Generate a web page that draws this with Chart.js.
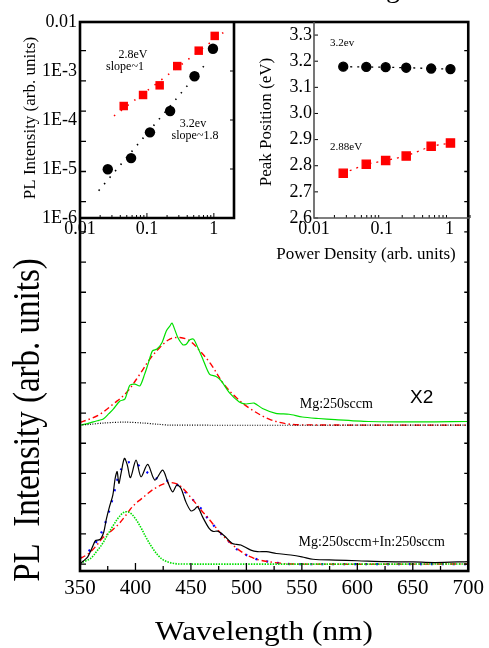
<!DOCTYPE html>
<html><head><meta charset="utf-8">
<script src="https://cdn.jsdelivr.net/npm/chart.js@4.4.1/dist/chart.umd.min.js"></script>
<style>
html,body{margin:0;padding:0;background:#fff;}
#wrap{position:relative;width:489px;height:648px;overflow:hidden;background:#fff;}
canvas{position:absolute;}
</style></head><body>
<div id="wrap">
<canvas id="main" width="489" height="648" style="left:0;top:0"></canvas>
<canvas id="insL" width="240" height="250" style="left:0;top:0"></canvas>
<canvas id="insR" width="249" height="270" style="left:240px;top:0"></canvas>
</div>
<script>
// ---------------- DATA ----------------
// Main panel: wavelength (nm) vs PL intensity (arb. units, offset spectra)
const mainXTicks = [350, 400, 450, 500, 550, 600, 650, 700];
const mainXMinor = [375, 425, 475, 525, 575, 625, 675];
const mainYTicks = [0,1,2,3,4,5,6,7,8,9,10,11,12,13,14,15,16,17];
const upperOffset = 4.6;

// Upper spectrum (Mg:250sccm), values relative to its own baseline
const upperGreen = [[350,0],[356,0.04],[362,0.11],[367,0.16],[371,0.2],[376,0.38],[380,0.53],[386,0.8],[390.4,0.86],[394.9,1.32],[399.4,1.36],[404,1.3],[408.3,1.69],[411.3,2.02],[415.3,2.46],[419.4,2.52],[424,2.74],[427.8,3.12],[430.8,3.27],[432.9,3.38],[435.3,3.18],[438.2,2.9],[442.7,2.66],[445.8,2.68],[448.7,2.82],[452.3,2.85],[456.2,2.57],[460.7,2.19],[466.7,1.69],[472.7,1.61],[477.2,1.47],[484.6,1.08],[493.6,0.77],[499.6,0.7],[507,0.73],[514.5,0.55],[526.5,0.39],[538.5,0.36],[550.4,0.27],[565,0.22],[580,0.18],[610,0.12],[640,0.11],[670,0.11],[700,0.12]];
const upperRed = [[350,0.09],[360,0.22],[368,0.36],[380,0.7],[392,1.08],[404,1.69],[413,2.19],[422,2.57],[431,2.85],[440,2.9],[449,2.79],[458,2.46],[468,2.02],[478.6,1.41],[490.6,0.92],[504,0.53],[520.5,0.2],[535.5,0.05],[550,0.01],[700,0]];
const upperBlack = [[350,0],[360,0.03],[371,0.07],[390,0.1],[407,0.07],[420,0.03],[431,0],[700,0]];

// Lower spectrum (Mg:250sccm+In:250sccm)
const lowerBlack = [[350,0.0],[353,0.1],[357,0.24],[361,0.55],[364,0.78],[367,0.8],[369,0.85],[371.5,1.07],[373.6,1.46],[376.6,1.9],[379.6,2.28],[381.7,2.84],[383.5,3.06],[385,2.67],[387,3.0],[390,3.5],[392.5,3.3],[395.5,2.86],[400.5,3.44],[405,2.89],[411,3.3],[417.5,2.78],[424.5,3.11],[429,2.73],[433.5,2.39],[437.3,2.62],[441,2.51],[445.4,2.06],[450,1.76],[453,1.8],[456,1.9],[460.4,1.57],[466.4,1.18],[470,1.08],[474,1.09],[480,0.94],[487,0.69],[491,0.65],[495,0.63],[504,0.46],[510,0.41],[518,0.41],[527,0.35],[540,0.3],[550,0.24],[560,0.16],[580,0.13],[600,0.11],[625,0.08],[650,0.07],[670,0.05],[700,0.08]];
const lowerGreen = [[350,0.04],[355,0.1],[360,0.2],[365,0.42],[370,0.66],[375,0.98],[380,1.28],[385,1.55],[390,1.72],[395,1.7],[400,1.5],[405,1.2],[410,0.85],[415,0.55],[420,0.3],[425,0.14],[430,0.06],[435,0.02],[440,0],[700,0]];
const lowerRed = [[350,0.18],[355,0.28],[360,0.42],[365,0.62],[370,0.85],[375,1.0],[380,1.15],[385,1.33],[390,1.55],[395,1.8],[400,2.0],[405,2.15],[410,2.3],[415,2.45],[420,2.56],[425,2.65],[430,2.7],[435,2.68],[440,2.6],[445,2.42],[450,2.2],[455,1.98],[460,1.75],[465,1.55],[470,1.32],[475,1.1],[480,0.9],[485,0.72],[490,0.56],[495,0.42],[500,0.3],[505,0.22],[510,0.15],[520,0.08],[530,0.03],[540,0],[700,0]];
const lowerBlue = [[350,0.2],[355,0.35],[360,0.5],[365,0.75],[370,1.1],[375,1.6],[380,2.25],[385,2.95],[390,3.3],[395,3.38],[400,3.35],[405,3.2],[410,3.05],[415,2.92],[420,2.82],[425,2.77],[430,2.75],[435,2.68],[440,2.55],[445,2.38],[450,2.2],[455,2.0],[460,1.8],[465,1.52],[470,1.3],[475,1.1],[480,0.88],[485,0.72],[490,0.52],[495,0.42],[500,0.3],[505,0.22],[510,0.15],[520,0.08],[530,0.03],[540,0],[700,0]];

// Left inset: PL intensity vs power density (log-log)
const insetXTicks = [0.01, 0.1, 1];
const insetXLabels = ['0.01', '0.1', '1'];
const insetLYTicks = [1e-6, 1e-5, 1e-4, 1e-3, 1e-2];
const insetLYLabels = ['1E-6', '1E-5', '1E-4', '1E-3', '0.01'];
const red28Power = [0.045, 0.0875, 0.155, 0.284, 0.594, 1.03];
const red28Int = [1.93e-4, 3.24e-4, 5.1e-4, 1.26e-3, 2.6e-3, 5.2e-3];
const black32Power = [0.026, 0.058, 0.111, 0.222, 0.514, 0.97];
const black32Int = [9.9e-6, 1.67e-5, 5.6e-5, 1.53e-4, 7.8e-4, 2.85e-3];
const fitRed = [[0.0322, 1.21e-4], [1.41, 6.2e-3]];
const fitBlack = [[0.019, 3.6e-6], [0.822, 1.6e-3]];

// Right inset: peak position vs power density
const insetRYTicks = [2.6, 2.7, 2.8, 2.9, 3.0, 3.1, 3.2, 3.3];
const insetRYLabels = ['2.6', '2.7', '2.8', '2.9', '3.0', '3.1', '3.2', '3.3'];
const peakPower = [0.027, 0.059, 0.114, 0.229, 0.535, 1.03];
const peak32 = [3.179, 3.178, 3.177, 3.175, 3.172, 3.170];
const peak288 = [2.771, 2.806, 2.820, 2.837, 2.875, 2.887];

// ---------------- HELPERS ----------------
const SERIF = "'Liberation Serif','Times New Roman',serif";
const SANS = "'Liberation Sans',Arial,sans-serif";
const toXY = (pairs, off = 0) => pairs.map(([x, y]) => ({x, y: y + off}));
const zipXY = (xs, ys) => xs.map((x, i) => ({x, y: ys[i]}));
function lineDs(data, color, width, dash, tension) {
  return {data, borderColor: color, borderWidth: width, borderDash: dash || [], pointRadius: 0,
          showLine: true, tension: tension || 0, fill: false, borderCapStyle: 'butt'};
}
function txt(ctx, s, x, y, font, align, base) {
  ctx.font = font; ctx.textAlign = align || 'center'; ctx.textBaseline = base || 'middle';
  ctx.fillStyle = '#000'; ctx.fillText(s, x, y);
}
function vtxt(ctx, s, x, y, font, stretch) {
  ctx.save(); ctx.translate(x, y); ctx.rotate(-Math.PI / 2);
  if (stretch) ctx.scale(1, stretch);
  txt(ctx, s, 0, 0, font, 'center', 'middle'); ctx.restore();
}
const baseOpts = {animation: false, responsive: false, devicePixelRatio: 1,
  plugins: {legend: {display: false}, tooltip: {enabled: false}}};
const noGrid = {display: false, drawTicks: false};

// ---------------- MAIN CHART ----------------
const mainDecor = {
  id: 'mainDecor',
  afterDraw(chart) {
    const {ctx, chartArea: a, scales: {x, y}} = chart;
    ctx.save();
    ctx.strokeStyle = '#000';
    ctx.lineWidth = 1.3;
    mainYTicks.forEach(v => {
      const py = y.getPixelForValue(v);
      ctx.beginPath(); ctx.moveTo(a.left, py); ctx.lineTo(a.left + 6, py);
      ctx.moveTo(a.right - 4, py); ctx.lineTo(a.right, py); ctx.stroke();
    });
    mainXTicks.forEach(v => {
      const px = x.getPixelForValue(v);
      ctx.beginPath(); ctx.moveTo(px, a.bottom); ctx.lineTo(px, a.bottom - 8); ctx.stroke();
    });
    mainXMinor.forEach(v => {
      const px = x.getPixelForValue(v);
      ctx.beginPath(); ctx.moveTo(px, a.bottom); ctx.lineTo(px, a.bottom - 5); ctx.stroke();
    });
    ctx.lineWidth = 2.6;
    ctx.strokeRect(a.left, a.top, a.width, a.height);
    ctx.save(); ctx.translate(264, 640); ctx.scale(1.12, 1);
    txt(ctx, 'Wavelength (nm)', 0, 0, `28px ${SERIF}`, 'center', 'alphabetic');
    ctx.restore();
    vtxt(ctx, 'PL  Intensity (arb. units)', 29, 420, `33px ${SERIF}`, 1.15);
    txt(ctx, 'Mg:250sccm', x.getPixelForValue(581), y.getPixelForValue(5.3), `14px ${SERIF}`);
    txt(ctx, 'X2', x.getPixelForValue(658), y.getPixelForValue(5.5), `19px ${SANS}`);
    txt(ctx, 'Mg:250sccm+In:250sccm', x.getPixelForValue(613), y.getPixelForValue(0.73), `14px ${SERIF}`);
    txt(ctx, 'g', 393, -3, `28px ${SERIF}`, 'center', 'alphabetic');
    ctx.restore();
  }
};

new Chart(document.getElementById('main'), {
  type: 'scatter',
  data: {datasets: [
    lineDs(toXY(upperBlack, upperOffset), '#000', 1.2, [1, 1.5], 0.3),
    lineDs(toXY(upperGreen, upperOffset), '#00e000', 1.2, [], 0.25),
    lineDs(toXY(upperRed, upperOffset), '#ff0000', 1.4, [6, 3, 1.5, 3], 0.35),
    lineDs(toXY(lowerBlack), '#000', 1.2, [], 0.3),
    lineDs(toXY(lowerGreen), '#00e000', 1.6, [1.5, 1.2], 0.35),
    lineDs(toXY(lowerRed), '#ff0000', 1.4, [6, 3, 1.5, 3], 0.35),
    lineDs(toXY(lowerBlue), '#0000ff', 2.2, [2, 9], 0.35)
  ]},
  options: {...baseOpts,
    layout: {padding: {left: 0, right: 19, top: 22, bottom: 0}},
    scales: {
      x: {type: 'linear', min: 350, max: 700,
        afterBuildTicks: s => { s.ticks = mainXTicks.map(v => ({value: v})); },
        ticks: {font: {family: SERIF, size: 21}, color: '#000', padding: 5, maxRotation: 0, autoSkip: false},
        grid: noGrid, border: {display: false},
        afterFit: s => { s.height = 77; }},
      y: {type: 'linear', min: -0.23, max: 17.95,
        ticks: {display: false}, grid: noGrid, border: {display: false},
        afterFit: s => { s.width = 80; }}
    }
  },
  plugins: [mainDecor]
});

// ---------------- LEFT INSET ----------------
function logMinor(lo, hi) { const out = []; for (let d = lo; d < hi; d *= 10) for (let k = 2; k <= 9; k++) out.push(d * k); return out; }
const insetLDecor = {
  id: 'insetLDecor',
  afterDraw(chart) {
    const {ctx, chartArea: a, scales: {x, y}} = chart;
    ctx.save(); ctx.strokeStyle = '#000';
    ctx.lineWidth = 1;
    logMinor(0.01, 1).concat([2]).forEach(v => {
      const px = x.getPixelForValue(v); if (px > a.right) return;
      ctx.beginPath(); ctx.moveTo(px, a.bottom); ctx.lineTo(px, a.bottom - 3); ctx.stroke();
    });
    insetXTicks.forEach(v => { const px = x.getPixelForValue(v);
      ctx.beginPath(); ctx.moveTo(px, a.bottom); ctx.lineTo(px, a.bottom - 5); ctx.stroke(); });
    insetLYTicks.forEach(v => { const py = y.getPixelForValue(v);
      ctx.beginPath(); ctx.moveTo(a.right, py); ctx.lineTo(a.right - 4, py); ctx.stroke(); });
    ctx.lineWidth = 2.6;
    ctx.beginPath(); ctx.moveTo(a.left, a.bottom); ctx.lineTo(a.right, a.bottom); ctx.lineTo(a.right, a.top); ctx.stroke();
    vtxt(ctx, 'PL Intensity (arb. units)', 31, 118, `17px ${SERIF}`);
    txt(ctx, '2.8eV', 133, 55, `12px ${SERIF}`);
    txt(ctx, 'slope~1', 125, 67, `12px ${SERIF}`);
    txt(ctx, '3.2ev', 193, 124, `12px ${SERIF}`);
    txt(ctx, 'slope~1.8', 195, 136, `12px ${SERIF}`);
    ctx.restore();
  }
};
new Chart(document.getElementById('insL'), {
  type: 'scatter',
  data: {datasets: [
    lineDs(toXY(fitRed), '#ff0000', 1.6, [1.5, 7]),
    lineDs(toXY(fitBlack), '#000', 1.6, [1.5, 7]),
    {data: zipXY(red28Power, red28Int), pointStyle: 'rect', pointRadius: 6, backgroundColor: '#ff0000', borderWidth: 0, showLine: false},
    {data: zipXY(black32Power, black32Int), pointStyle: 'circle', pointRadius: 5.2, backgroundColor: '#000', borderWidth: 0, showLine: false}
  ]},
  options: {...baseOpts,
    layout: {padding: {left: 0, right: 3, top: 22, bottom: 0}},
    scales: {
      x: {type: 'logarithmic', min: 0.01, max: 2,
        afterBuildTicks: s => { s.ticks = insetXTicks.map(v => ({value: v})); },
        ticks: {callback: (v, i) => insetXLabels[i], font: {family: SERIF, size: 18}, color: '#000', padding: 0, maxRotation: 0, autoSkip: false},
        grid: noGrid, border: {display: false},
        afterFit: s => { s.height = 32; }},
      y: {type: 'logarithmic', min: 1e-6, max: 1e-2,
        afterBuildTicks: s => { s.ticks = insetLYTicks.map(v => ({value: v})); },
        ticks: {callback: (v, i) => insetLYLabels[i], font: {family: SERIF, size: 18}, color: '#000', padding: 3, autoSkip: false},
        grid: noGrid, border: {display: false},
        afterFit: s => { s.width = 80; }}
    }
  },
  plugins: [insetLDecor]
});

// ---------------- RIGHT INSET ----------------
const insetRDecor = {
  id: 'insetRDecor',
  afterDraw(chart) {
    const {ctx, chartArea: a, scales: {x, y}} = chart;
    ctx.save(); ctx.strokeStyle = '#000'; ctx.lineWidth = 1;
    logMinor(0.01, 1).concat([2]).forEach(v => {
      const px = x.getPixelForValue(v); if (px > a.right) return;
      ctx.beginPath(); ctx.moveTo(px, a.bottom); ctx.lineTo(px, a.bottom - 3); ctx.stroke();
    });
    insetRYTicks.forEach(v => { const py = y.getPixelForValue(v);
      ctx.beginPath(); ctx.moveTo(a.left, py); ctx.lineTo(a.left + 4, py); ctx.stroke(); });
    ctx.strokeStyle = '#555'; ctx.lineWidth = 1.6;
    ctx.beginPath(); ctx.moveTo(a.left, a.top); ctx.lineTo(a.left, a.bottom); ctx.lineTo(a.right, a.bottom); ctx.stroke();
    vtxt(ctx, 'Peak Position (eV)', 27, 122, `17px ${SERIF}`);
    txt(ctx, 'Power Density (arb. units)', 126, 255, `17px ${SERIF}`);
    txt(ctx, '3.2ev', 90, 43, `11px ${SERIF}`, 'left');
    txt(ctx, '2.88eV', 90, 147, `11px ${SERIF}`, 'left');
    ctx.restore();
  }
};
new Chart(document.getElementById('insR'), {
  type: 'scatter',
  data: {datasets: [
    {data: zipXY(peakPower, peak32), pointStyle: 'circle', pointRadius: 4.5, backgroundColor: '#000', borderColor: '#000', borderWidth: 1.3, borderDash: [2, 5], showLine: true},
    {data: zipXY(peakPower, peak288), pointStyle: 'rect', pointRadius: 5.8, backgroundColor: '#ff0000', borderColor: '#ff0000', borderWidth: 1.3, borderDash: [2, 5], showLine: true}
  ]},
  options: {...baseOpts,
    layout: {padding: {left: 0, right: 19, top: 22, bottom: 0}},
    scales: {
      x: {type: 'logarithmic', min: 0.01, max: 2,
        afterBuildTicks: s => { s.ticks = insetXTicks.map(v => ({value: v})); },
        ticks: {callback: (v, i) => insetXLabels[i], font: {family: SERIF, size: 18}, color: '#000', padding: 0, maxRotation: 0, autoSkip: false},
        grid: noGrid, border: {display: false},
        afterFit: s => { s.height = 52; }},
      y: {type: 'linear', min: 2.6, max: 3.35,
        afterBuildTicks: s => { s.ticks = insetRYTicks.map(v => ({value: v})); },
        ticks: {callback: (v, i) => insetRYLabels[i], font: {family: SERIF, size: 18}, color: '#000', padding: 2, autoSkip: false},
        grid: noGrid, border: {display: false},
        afterFit: s => { s.width = 74; }}
    }
  },
  plugins: [insetRDecor]
});
</script>
</body></html>
